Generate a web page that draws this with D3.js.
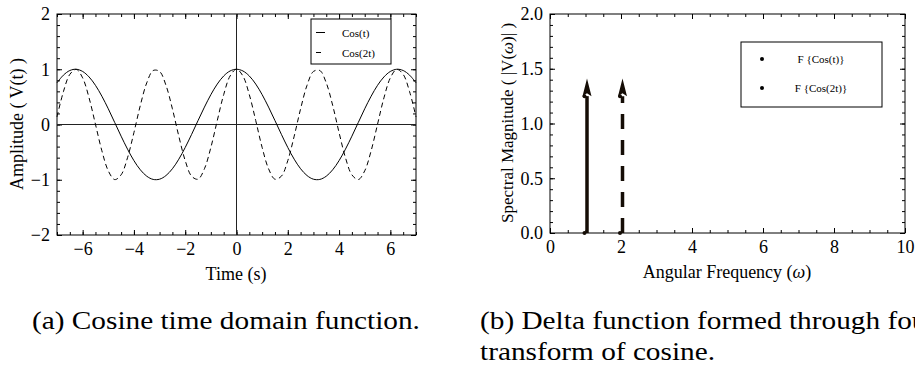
<!DOCTYPE html>
<html>
<head>
<meta charset="utf-8">
<script src="https://cdn.jsdelivr.net/npm/d3@7"></script>
<style>
  body { margin: 0; background: #fff; }
  svg { display: block; font-family: "Liberation Serif", "Times New Roman", serif; }
</style>
</head>
<body>
<svg id="chart" width="915" height="367"></svg>
<script>
// time samples (s) and the two curves
var timeSamples = [-7,-6.75,-6.5,-6.25,-6,-5.75,-5.5,-5.25,-5,-4.75,-4.5,-4.25,-4,-3.75,-3.5,-3.25,-3,-2.75,-2.5,-2.25,-2,-1.75,-1.5,-1.25,-1,-0.75,-0.5,-0.25,
  0,0.25,0.5,0.75,1,1.25,1.5,1.75,2,2.25,2.5,2.75,3,3.25,3.5,3.75,4,4.25,4.5,4.75,5,5.25,5.5,5.75,6,6.25,6.5,6.75,7];
var cosT = [0.754,0.893,0.977,1.000,0.960,0.861,0.709,0.512,0.284,0.037,-0.211,-0.446,-0.654,-0.820,-0.936,-0.994,-0.990,-0.924,-0.801,-0.628,-0.416,-0.178,0.071,0.315,0.540,0.732,0.878,0.969,
  1,0.969,0.878,0.732,0.540,0.315,0.071,-0.178,-0.416,-0.628,-0.801,-0.924,-0.990,-0.994,-0.936,-0.820,-0.654,-0.446,-0.211,0.037,0.284,0.512,0.709,0.861,0.960,1.000,0.977,0.893,0.754];
var cos2T = [0.137,0.594,0.907,0.998,0.844,0.483,0.004,-0.476,-0.839,-0.997,-0.911,-0.602,-0.146,0.347,0.754,0.977,0.960,0.709,0.284,-0.211,-0.654,-0.936,-0.990,-0.801,-0.416,0.071,0.540,0.878,
  1,0.878,0.540,0.071,-0.416,-0.801,-0.990,-0.936,-0.654,-0.211,0.284,0.709,0.960,0.977,0.754,0.347,-0.146,-0.602,-0.911,-0.997,-0.839,-0.476,0.004,0.483,0.844,0.998,0.907,0.594,0.137];
var seriesNamesA = ["Cos(t)", "Cos(2t)"];

// panel (b): delta spikes
var spikeFreq = [1, 2];
var spikeDot = [1.25, 1.25];
var spikeTip = [1.41, 1.41];
var seriesNamesB = ["F {Cos(t)}", "F {Cos(2t)}"];

// ticks
var ticksAx = [-6, -4, -2, 0, 2, 4, 6];
var ticksAy = [-2, -1, 0, 1, 2];
var ticksBx = [0, 2, 4, 6, 8, 10];
var ticksBy = [0, 0.5, 1, 1.5, 2];

var svg = d3.select("#chart");
svg.append("rect").attr("width", 915).attr("height", 367).attr("fill", "#fff");

// draws a framed box with inward ticks on all four sides
function frame(x, y, xMajor, xMinor, yMajor, yMinor, xFmt, yFmt) {
  var g = svg.append("g");
  var x0 = x.range()[0], x1 = x.range()[1], y0 = y.range()[0], y1 = y.range()[1];
  [[d3.axisBottom, y0, true], [d3.axisTop, y1, false]].forEach(function(a) {
    g.append("g").attr("transform", "translate(0," + a[1] + ")")
      .call(a[0](x).tickValues(xMinor).tickSize(-3).tickFormat(""));
    g.append("g").attr("transform", "translate(0," + a[1] + ")")
      .call(a[0](x).tickValues(xMajor).tickSize(-5).tickPadding(7).tickFormat(a[2] ? xFmt : ""));
  });
  [[d3.axisLeft, x0, true], [d3.axisRight, x1, false]].forEach(function(a) {
    g.append("g").attr("transform", "translate(" + a[1] + ",0)")
      .call(a[0](y).tickValues(yMinor).tickSize(-3).tickFormat(""));
    g.append("g").attr("transform", "translate(" + a[1] + ",0)")
      .call(a[0](y).tickValues(yMajor).tickSize(-5).tickPadding(7).tickFormat(a[2] ? yFmt : ""));
  });
  g.selectAll(".domain").remove();
  g.selectAll("g").attr("font-family", null);
  g.selectAll(".tick line").attr("stroke", "#000");
  g.selectAll(".tick text").attr("font-family", "Liberation Serif").attr("font-size", 18).attr("fill", "#000");
  g.append("rect").attr("x", x0).attr("y", y1).attr("width", x1 - x0).attr("height", y0 - y1)
    .attr("fill", "none").attr("stroke", "#000").attr("stroke-width", 1);
  return g;
}

// ---------- panel (a) ----------
var xA = d3.scaleLinear().domain([-7, 7]).range([57, 416]);
var yA = d3.scaleLinear().domain([-2, 2]).range([235, 14]);

frame(xA, yA, ticksAx, d3.range(-7, 7.01, 0.5), ticksAy, d3.range(-2, 2.01, 0.2),
  d3.format("d"), d3.format("d"));

// axes through origin
svg.append("line").attr("x1", xA(0)).attr("x2", xA(0)).attr("y1", yA(2)).attr("y2", yA(-2))
  .attr("stroke", "#222").attr("stroke-width", 1);
svg.append("line").attr("x1", xA(-7)).attr("x2", xA(7)).attr("y1", yA(0)).attr("y2", yA(0))
  .attr("stroke", "#222").attr("stroke-width", 1);

var lineA = d3.line().curve(d3.curveCatmullRom)
  .x(function(d) { return xA(d[0]); })
  .y(function(d) { return yA(d[1]); });

svg.append("path").datum(d3.zip(timeSamples, cosT))
  .attr("d", lineA).attr("fill", "none").attr("stroke", "#000").attr("stroke-width", 1);
svg.append("path").datum(d3.zip(timeSamples, cos2T))
  .attr("d", lineA).attr("fill", "none").attr("stroke", "#000").attr("stroke-width", 1)
  .attr("stroke-dasharray", "5,3.5");

// legend (a)
svg.append("rect").attr("x", 311).attr("y", 19).attr("width", 80).attr("height", 45)
  .attr("fill", "#fff").attr("stroke", "#000");
seriesNamesA.forEach(function(name, i) {
  var ly = 32.5 + i * 20;
  svg.append("line").attr("x1", 316).attr("x2", i ? 321 : 325).attr("y1", ly).attr("y2", ly)
    .attr("stroke", "#000").attr("stroke-width", 1);
  svg.append("text").attr("x", 342).attr("y", ly + 4).attr("font-size", 11).text(name);
});

svg.append("text").attr("x", 236).attr("y", 280).attr("text-anchor", "middle")
  .attr("font-size", 18).text("Time (s)");
svg.append("text").attr("transform", "translate(23,124) rotate(-90)").attr("text-anchor", "middle")
  .attr("font-size", 18).text("Amplitude ( V(t) )");

// ---------- panel (b) ----------
var xB = d3.scaleLinear().domain([0, 10]).range([550, 905]);
var yB = d3.scaleLinear().domain([0, 2]).range([233, 14]);

frame(xB, yB, ticksBx, d3.range(0, 10.01, 0.5), ticksBy, d3.range(0, 2.01, 0.1),
  d3.format("d"), d3.format(".1f"));

var ink = "#150d06";
spikeFreq.forEach(function(f, i) {
  var cx = xB(f) + 1.5;
  svg.append("line").attr("x1", cx).attr("x2", cx).attr("y1", yB(0)).attr("y2", yB(spikeDot[i]))
    .attr("stroke", ink).attr("stroke-width", 3.5)
    .attr("stroke-dasharray", i ? "15,11" : null);
  svg.append("path")
    .attr("d", "M" + (cx - 4.5) + "," + yB(spikeDot[i]) + "L" + cx + "," + yB(spikeTip[i]) +
      "L" + (cx + 4.5) + "," + yB(spikeDot[i]) + "L" + cx + "," + (yB(spikeDot[i]) - 3) + "Z")
    .attr("fill", ink);
  svg.append("circle").attr("cx", xB(f) - 1).attr("cy", yB(0)).attr("r", 2).attr("fill", ink);
  svg.append("circle").attr("cx", xB(f) - 1).attr("cy", yB(spikeDot[i])).attr("r", 2).attr("fill", ink);
});

// legend (b)
svg.append("rect").attr("x", 741).attr("y", 42).attr("width", 141).attr("height", 65)
  .attr("fill", "none").attr("stroke", "#000");
seriesNamesB.forEach(function(name, i) {
  var ly = 59 + i * 29;
  svg.append("circle").attr("cx", 762).attr("cy", ly).attr("r", 2).attr("fill", "#000");
  svg.append("text").attr("x", 821).attr("y", ly + 4).attr("text-anchor", "middle")
    .attr("font-size", 11).text(name);
});

var xl = svg.append("text").attr("x", 727).attr("y", 278).attr("text-anchor", "middle").attr("font-size", 18);
xl.append("tspan").text("Angular Frequency (");
xl.append("tspan").attr("font-style", "italic").text("ω");
xl.append("tspan").text(")");

var yl = svg.append("text").attr("transform", "translate(513,123) rotate(-90)")
  .attr("text-anchor", "middle").attr("font-size", 17);
yl.append("tspan").text("Spectral Magnitude ( |V(");
yl.append("tspan").attr("font-style", "italic").text("ω");
yl.append("tspan").text(")| )");

// captions (LaTeX-style, wide serif)
var capA = svg.append("g").attr("transform", "translate(32,329)");
var capAText = capA.append("text").attr("font-size", 26).text("(a) Cosine time domain function.");
var sx = 388 / capAText.node().getComputedTextLength();
capA.attr("transform", "translate(32,329) scale(" + sx + ",1)");
svg.append("g").attr("transform", "translate(480,329) scale(" + sx + ",1)")
  .append("text").attr("font-size", 26).text("(b) Delta function formed through fourier");
svg.append("g").attr("transform", "translate(480,360) scale(" + sx + ",1)")
  .append("text").attr("font-size", 26).text("transform of cosine.");
</script>
</body>
</html>
